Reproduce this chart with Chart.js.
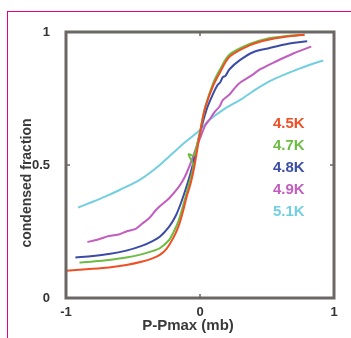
<!DOCTYPE html>
<html>
<head>
<meta charset="utf-8">
<script src="https://cdn.jsdelivr.net/npm/chart.js@4/dist/chart.umd.min.js"></script>
<style>
  html, body { margin: 0; padding: 0; background: #fff; }
  #wrap { position: relative; width: 351px; height: 338px; overflow: hidden; }
  #frame { position: absolute; left: 7px; top: 11px; width: 400px; height: 400px; border: 1px solid #e8007f; box-sizing: border-box; }
  #chart { position: absolute; left: 0; top: 0; }
</style>
</head>
<body>
<div id="wrap">
  <div id="frame"></div>
  <canvas id="chart" width="351" height="338"></canvas>
</div>
<script>
// condensed fraction vs P - Pmax, one curve per temperature
const seriesNames = ['4.5K', '4.7K', '4.8K', '4.9K', '5.1K'];
const seriesColors = ['#ef4f24', '#6cbc43', '#3b4ca6', '#c25dbf', '#72cfe0'];

const x45 = [-1, -0.85, -0.68, -0.55, -0.43, -0.35, -0.3, -0.25, -0.2, -0.16, -0.13, -0.1, -0.07, -0.04, 0, 0.034, 0.1, 0.146, 0.22, 0.37, 0.5, 0.65, 0.78];
const y45 = [0.102, 0.108, 0.115, 0.124, 0.137, 0.15, 0.162, 0.185, 0.225, 0.27, 0.32, 0.38, 0.43, 0.5, 0.62, 0.707, 0.8, 0.845, 0.907, 0.95, 0.97, 0.983, 0.99];

const x47 = [-0.9, -0.8, -0.68, -0.55, -0.43, -0.35, -0.3, -0.23, -0.2, -0.16, -0.13, -0.1, -0.07, -0.05, -0.085, -0.045, -0.03, 0, 0.04, 0.1, 0.15, 0.22, 0.37, 0.5, 0.65, 0.78];
const y47 = [0.133, 0.137, 0.143, 0.152, 0.165, 0.177, 0.187, 0.218, 0.245, 0.29, 0.34, 0.395, 0.45, 0.5, 0.54, 0.535, 0.56, 0.625, 0.72, 0.81, 0.86, 0.915, 0.955, 0.975, 0.985, 0.99];

const x48 = [-0.93, -0.8, -0.68, -0.55, -0.43, -0.35, -0.3, -0.23, -0.18, -0.14, -0.1, -0.07, -0.04, 0, 0.05, 0.1, 0.13, 0.15, 0.17, 0.19, 0.22, 0.3, 0.4, 0.52, 0.65, 0.8];
const y48 = [0.152, 0.158, 0.165, 0.178, 0.197, 0.215, 0.23, 0.268, 0.31, 0.36, 0.42, 0.47, 0.53, 0.62, 0.71, 0.77, 0.8, 0.81, 0.83, 0.835, 0.86, 0.895, 0.925, 0.94, 0.955, 0.965];

const x49 = [-0.84, -0.75, -0.68, -0.6, -0.55, -0.48, -0.43, -0.38, -0.33, -0.3, -0.23, -0.17, -0.13, -0.1, -0.06, -0.025, 0, 0.04, 0.07, 0.11, 0.146, 0.17, 0.22, 0.26, 0.3, 0.38, 0.45, 0.57, 0.7, 0.83];
const y49 = [0.21, 0.222, 0.233, 0.24, 0.25, 0.26, 0.28, 0.3, 0.33, 0.345, 0.375, 0.41, 0.44, 0.47, 0.52, 0.57, 0.6, 0.65, 0.67, 0.7, 0.72, 0.744, 0.765, 0.79, 0.81, 0.835, 0.86, 0.89, 0.92, 0.945];

const x51 = [-0.91, -0.8, -0.7, -0.6, -0.45, -0.3, -0.15, 0, 0.07, 0.18, 0.3, 0.42, 0.52, 0.62, 0.72, 0.82, 0.92];
const y51 = [0.34, 0.362, 0.383, 0.406, 0.444, 0.5, 0.569, 0.632, 0.669, 0.71, 0.745, 0.785, 0.815, 0.838, 0.858, 0.877, 0.893];

const xTicks = [-1, 0, 1];
const yTicks = [0, 0.5, 1];
const xTitle = 'P-Pmax (mb)';
const yTitle = 'condensed fraction';

const seriesX = [x45, x47, x48, x49, x51];
const seriesY = [y45, y47, y48, y49, y51];

const datasets = seriesNames.map((name, i) => ({
  label: name,
  data: seriesX[i].map((x, j) => ({ x: x, y: seriesY[i][j] })),
  borderColor: seriesColors[i],
  borderWidth: 2,
  pointRadius: 0,
  showLine: true,
  tension: 0.3,
}));

const axisColor = '#6d6666';
const labelFont = { family: 'Liberation Sans', size: 13, weight: 'bold' };

const framePlugin = {
  id: 'frameAndText',
  afterDraw(chart) {
    const { ctx, chartArea: a, scales } = chart;
    ctx.save();
    ctx.strokeStyle = axisColor;
    ctx.lineWidth = 3;
    ctx.strokeRect(a.left, a.top, a.right - a.left, a.bottom - a.top);

    // small inner tick marks
    ctx.lineWidth = 1.5;
    ctx.beginPath();
    const x0 = scales.x.getPixelForValue(0);
    ctx.moveTo(x0, a.top); ctx.lineTo(x0, a.top + 4);
    ctx.moveTo(x0, a.bottom); ctx.lineTo(x0, a.bottom - 4);
    const yMid = scales.y.getPixelForValue(0.5);
    ctx.moveTo(a.left, yMid); ctx.lineTo(a.left + 4, yMid);
    ctx.moveTo(a.right, yMid); ctx.lineTo(a.right - 4, yMid);
    ctx.stroke();

    // axis titles
    ctx.fillStyle = '#3a3a3a';
    ctx.textAlign = 'center';
    ctx.textBaseline = 'middle';
    ctx.font = 'bold 15px "Liberation Sans"';
    ctx.fillText(xTitle, 188, 326);
    ctx.save();
    ctx.translate(27, 183);
    ctx.rotate(-Math.PI / 2);
    ctx.font = 'bold 14px "Liberation Sans"';
    ctx.fillText(yTitle, 0, 0);
    ctx.restore();

    // legend text
    ctx.textAlign = 'left';
    ctx.font = 'bold 15px "Liberation Sans"';
    seriesNames.forEach((name, i) => {
      ctx.fillStyle = seriesColors[i];
      ctx.fillText(name, 273, 124 + i * 22);
    });
    ctx.restore();
  }
};

new Chart(document.getElementById('chart').getContext('2d'), {
  type: 'scatter',
  data: { datasets: datasets },
  options: {
    responsive: false,
    animation: false,
    layout: { padding: { top: 32, right: 17, left: 0, bottom: 0 } },
    plugins: {
      legend: { display: false },
      tooltip: { enabled: false },
    },
    scales: {
      x: {
        type: 'linear',
        min: -1,
        max: 1,
        grid: { display: false, drawTicks: false },
        border: { display: false },
        afterBuildTicks: (scale) => { scale.ticks = xTicks.map(v => ({ value: v })); },
        afterFit: (scale) => { scale.height = 40; },
        ticks: { font: labelFont, color: '#333', padding: 7, maxRotation: 0, autoSkip: false, callback: (v) => String(v) },
      },
      y: {
        type: 'linear',
        min: 0,
        max: 1,
        grid: { display: false, drawTicks: false },
        border: { display: false },
        afterBuildTicks: (scale) => { scale.ticks = yTicks.map(v => ({ value: v })); },
        afterFit: (scale) => { scale.width = 66; },
        ticks: { font: labelFont, color: '#333', padding: 16, autoSkip: false, callback: (v) => String(v) },
      },
    },
  },
  plugins: [framePlugin],
});
</script>
</body>
</html>
